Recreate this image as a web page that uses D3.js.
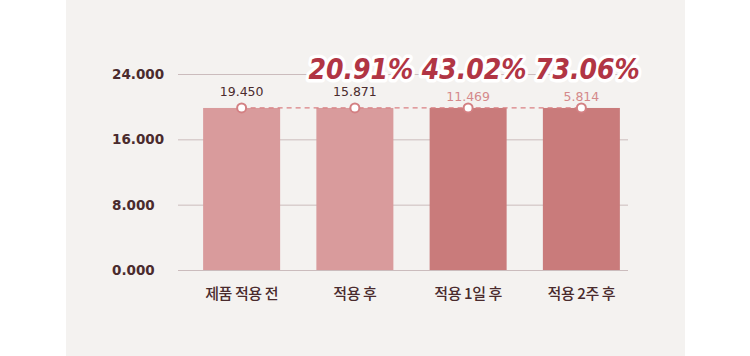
<!DOCTYPE html>
<html><head><meta charset="utf-8">
<script src="https://cdn.jsdelivr.net/npm/d3@7"></script>
<style>
html,body{margin:0;padding:0;background:#fff;}
svg{display:block;}
</style></head>
<body>
<svg id="c" width="750" height="356"></svg>
<script>
const categories = ["제품 적용 전", "적용 후", "적용 1일 후", "적용 2주 후"];
const barValues = [19.84, 19.84, 19.84, 19.84];
const valueLabels = ["19.450", "15.871", "11.469", "5.814"];
const percentLabels = ["", "20.91%", "43.02%", "73.06%"];
const yTicks = [0, 8, 16, 24];
const yTickLabels = ["0.000", "8.000", "16.000", "24.000"];

const svg = d3.select("#c");
svg.append("rect").attr("x", 66).attr("y", 0).attr("width", 619).attr("height", 356).attr("fill", "#f4f2f0");

const x = d3.scaleBand().domain(categories).range([185, 638]).paddingInner(0.32).paddingOuter(0.16);
const y = d3.scaleLinear().domain([0, 24]).range([270, 74]);
const cx = i => x(categories[i]) + x.bandwidth() / 2;

// grid
svg.append("g").selectAll("line").data(yTicks).join("line")
  .attr("x1", 178).attr("x2", 628)
  .attr("y1", d => y(d) + 0.5).attr("y2", d => y(d) + 0.5)
  .attr("stroke", "#cbbcbd").attr("stroke-width", 1);

svg.append("g").selectAll("text").data(yTicks).join("text")
  .attr("x", 112).attr("y", d => y(d)).attr("dy", "0.36em")
  .attr("font-family", "DejaVu Sans").attr("font-weight", "bold").attr("font-size", 13.5)
  .attr("fill", "#4a2b2d")
  .text((d, i) => yTickLabels[i]);

// bars
const barColors = ["#d99b9c", "#d99b9c", "#c97b7b", "#c97b7b"];
svg.append("g").selectAll("rect").data(categories).join("rect")
  .attr("x", d => x(d)).attr("width", x.bandwidth())
  .attr("y", (d, i) => y(barValues[i]))
  .attr("height", (d, i) => y(0) - y(barValues[i]))
  .attr("fill", (d, i) => barColors[i]);

// x labels
svg.append("g").selectAll("text").data(categories).join("text")
  .attr("x", (d, i) => cx(i)).attr("y", 299)
  .attr("text-anchor", "middle")
  .attr("font-family", "Noto Sans CJK KR").attr("font-weight", 500).attr("font-size", 15).attr("letter-spacing", -0.4)
  .attr("fill", "#4a2b2d")
  .text(d => d);

// dashed line
const line = d3.line().x((d, i) => cx(i)).y(d => y(d));
svg.append("path").datum(barValues).attr("d", line)
  .attr("fill", "none").attr("stroke", "#d98082").attr("stroke-width", 1.3).attr("stroke-dasharray", "5,4");

svg.append("g").selectAll("circle").data(barValues).join("circle")
  .attr("cx", (d, i) => cx(i)).attr("cy", d => y(d))
  .attr("r", 4.5).attr("fill", "#fff").attr("stroke", "#d38083").attr("stroke-width", 2);

// value labels
svg.append("g").selectAll("text").data(valueLabels).join("text")
  .attr("x", (d, i) => cx(i))
  .attr("y", (d, i) => i < 2 ? 96 : 101)
  .attr("text-anchor", "middle")
  .attr("font-family", "DejaVu Sans").attr("font-size", 12.5)
  .attr("fill", (d, i) => i < 2 ? "#4a2b2d" : "#d4898b")
  .text(d => d);

// percent labels
const pct = percentLabels.map((t, i) => ({ t, i })).filter(d => d.t !== "");
svg.append("g").selectAll("text").data(pct).join("text")
  .attr("x", d => cx(d.i) + 6)
  .attr("y", 79)
  .attr("text-anchor", "middle")
  .attr("font-family", "DejaVu Sans").attr("font-weight", "bold").attr("font-style", "italic")
  .attr("font-size", 29)
  .attr("textLength", 105).attr("lengthAdjust", "spacingAndGlyphs")
  .attr("fill", "#b13544").attr("stroke", "#fff").attr("stroke-width", 7)
  .attr("stroke-linejoin", "round").attr("paint-order", "stroke")
  .text(d => d.t);
</script>
</body></html>
